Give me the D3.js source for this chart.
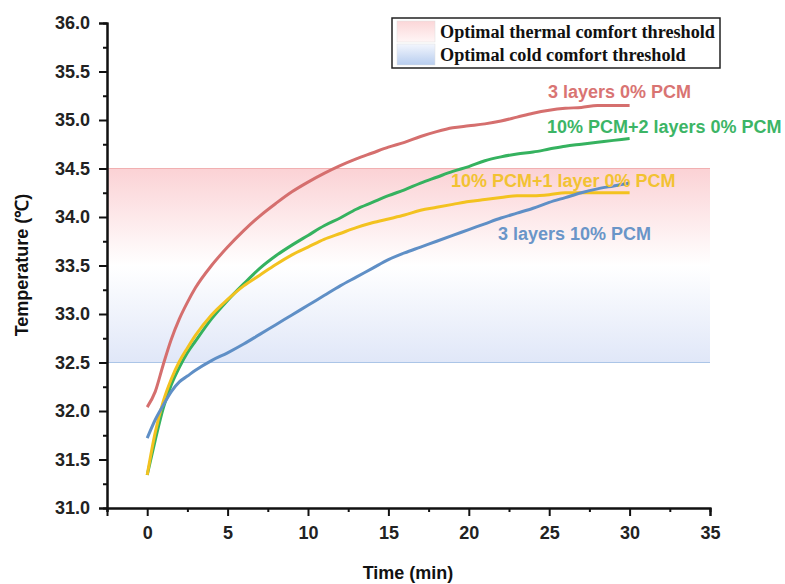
<!DOCTYPE html>
<html>
<head>
<meta charset="utf-8">
<script src="https://cdn.jsdelivr.net/npm/d3@7"></script>
<style>
  body { margin: 0; background: #fff; }
  svg { display: block; }
</style>
</head>
<body>
<svg id="chart" width="785" height="584"></svg>
<script>
// ---- Data ----
const time = [0,0.5,1,1.5,2,2.5,3,4,5,6,7,8,9,10,11,12,13,14,15,16,17,18,19,20,21,22,23,24,25,26,27,28,29,30];
const red3Layers0PCM = [32.04,32.20,32.48,32.74,32.95,33.12,33.27,33.50,33.69,33.86,34.01,34.14,34.26,34.36,34.45,34.53,34.60,34.66,34.72,34.77,34.83,34.88,34.92,34.94,34.96,34.99,35.03,35.07,35.10,35.12,35.13,35.15,35.15,35.15];
const green10PCM2Layers = [31.34,31.70,32.03,32.27,32.45,32.60,32.72,32.95,33.14,33.31,33.47,33.60,33.71,33.81,33.91,33.99,34.08,34.15,34.22,34.28,34.35,34.41,34.47,34.52,34.58,34.62,34.65,34.67,34.70,34.73,34.75,34.77,34.79,34.81];
const yellow10PCM1Layer = [31.34,31.78,32.10,32.33,32.51,32.65,32.78,32.99,33.15,33.29,33.40,33.51,33.61,33.69,33.77,33.83,33.89,33.94,33.98,34.02,34.07,34.10,34.13,34.16,34.18,34.20,34.22,34.22,34.23,34.25,34.25,34.25,34.25,34.25];
const blue3Layers10PCM = [31.72,31.91,32.06,32.20,32.30,32.36,32.42,32.52,32.60,32.69,32.79,32.89,32.99,33.09,33.19,33.29,33.38,33.47,33.56,33.63,33.69,33.75,33.81,33.87,33.93,33.99,34.04,34.09,34.15,34.20,34.25,34.29,34.32,34.35];

const seriesNames = ["3 layers 0% PCM", "10% PCM+2 layers 0% PCM", "10% PCM+1 layer 0% PCM", "3 layers 10% PCM"];
const seriesValues = [red3Layers0PCM, green10PCM2Layers, yellow10PCM1Layer, blue3Layers10PCM];
const seriesColors = ["#d56f6e", "#35b25f", "#f3c21f", "#5f8fc6"];
const labelColors = ["#d97473", "#3cb566", "#f2c232", "#6a95c8"];

const xTicks = [0,5,10,15,20,25,30,35];
const yTicks = [31.0,31.5,32.0,32.5,33.0,33.5,34.0,34.5,35.0,35.5,36.0];
const thermalBand = [33.5, 34.5];
const coldBand = [32.5, 33.5];
const legendLabels = ["Optimal thermal comfort threshold", "Optimal cold comfort threshold"];

// ---- Layout ----
const svg = d3.select("#chart");
const x = d3.scaleLinear().domain([-2.5, 35]).range([107, 710]);
const y = d3.scaleLinear().domain([31, 36]).range([508, 23]);
const fontFam = "Liberation Sans, Arial, sans-serif";

const defs = svg.append("defs");
const gRed = defs.append("linearGradient").attr("id","gradRed").attr("x1",0).attr("y1",0).attr("x2",0).attr("y2",1);
gRed.append("stop").attr("offset","0%").attr("stop-color","#fbd2d5");
gRed.append("stop").attr("offset","100%").attr("stop-color","#ffffff");
const gBlue = defs.append("linearGradient").attr("id","gradBlue").attr("x1",0).attr("y1",0).attr("x2",0).attr("y2",1);
gBlue.append("stop").attr("offset","0%").attr("stop-color","#ffffff");
gBlue.append("stop").attr("offset","100%").attr("stop-color","#e0e7f8");

// bands
svg.append("rect")
  .attr("x", x(-2.5)).attr("width", x(35) - x(-2.5))
  .attr("y", y(thermalBand[1])).attr("height", y(thermalBand[0]) - y(thermalBand[1]))
  .attr("fill", "url(#gradRed)");
svg.append("rect")
  .attr("x", x(-2.5)).attr("width", x(35) - x(-2.5))
  .attr("y", y(coldBand[1])).attr("height", y(coldBand[0]) - y(coldBand[1]))
  .attr("fill", "url(#gradBlue)");
svg.append("line")
  .attr("x1", x(-2.5)).attr("x2", x(35))
  .attr("y1", y(thermalBand[1])).attr("y2", y(thermalBand[1]))
  .attr("stroke", "#f1b0b1").attr("stroke-width", 1);
svg.append("line")
  .attr("x1", x(-2.5)).attr("x2", x(35))
  .attr("y1", y(coldBand[0])).attr("y2", y(coldBand[0]))
  .attr("stroke", "#abc5e7").attr("stroke-width", 1);

// lines
const line = d3.line().x((d,i) => x(time[i])).y(d => y(d)).curve(d3.curveMonotoneX);
seriesValues.forEach((vals, k) => {
  svg.append("path")
    .datum(vals)
    .attr("d", line)
    .attr("fill", "none")
    .attr("stroke", seriesColors[k])
    .attr("stroke-width", 3)
    .attr("stroke-linejoin", "round");
});

// series labels
const labelPos = [[548, 98], [547, 133], [451, 187], [498, 240]];
seriesNames.forEach((name, k) => {
  svg.append("text")
    .attr("x", labelPos[k][0]).attr("y", labelPos[k][1])
    .attr("fill", labelColors[k])
    .attr("font-family", fontFam)
    .attr("font-weight", "bold")
    .attr("font-size", 18)
    .text(name);
});

// axes
const xAxis = d3.axisBottom(x).tickValues(xTicks).tickSize(8).tickPadding(10).tickFormat(d3.format("d"));
const xMinor = d3.axisBottom(x).tickValues([-2.5,2.5,7.5,12.5,17.5,22.5,27.5,32.5]).tickSize(4).tickFormat("");
const yAxis = d3.axisLeft(y).tickValues(yTicks).tickSize(8).tickPadding(9).tickFormat(d3.format(".1f"));
const yMinor = d3.axisLeft(y).tickValues(d3.range(31.25, 36, 0.5)).tickSize(4).tickFormat("");

function styleAxis(g) {
  g.select(".domain").attr("stroke", "#111").attr("stroke-width", 2);
  g.selectAll(".tick line").attr("stroke", "#111").attr("stroke-width", 2);
  g.selectAll(".tick text").attr("fill", "#222").attr("font-family", fontFam).attr("font-weight", "bold").attr("font-size", 18);
}
svg.append("g").attr("transform", "translate(0,508)").call(xMinor).call(styleAxis);
svg.append("g").attr("transform", "translate(0,508)").call(xAxis).call(styleAxis);
svg.append("g").attr("transform", "translate(107,0)").call(yMinor).call(styleAxis);
svg.append("g").attr("transform", "translate(107,0)").call(yAxis).call(styleAxis);

// axis titles
svg.append("text")
  .attr("x", 408).attr("y", 579)
  .attr("text-anchor", "middle")
  .attr("font-family", fontFam).attr("font-weight", "bold").attr("font-size", 18)
  .attr("fill", "#111")
  .text("Time (min)");
svg.append("text")
  .attr("transform", "translate(28,265) rotate(-90)")
  .attr("text-anchor", "middle")
  .attr("font-family", fontFam).attr("font-weight", "bold").attr("font-size", 18)
  .attr("fill", "#111")
  .text("Temperature (℃)");

// legend
const lg = svg.append("g");
lg.append("rect").attr("x", 392).attr("y", 18).attr("width", 328).attr("height", 50)
  .attr("fill", "#fff").attr("stroke", "#222").attr("stroke-width", 1.5);
const gRedL = defs.append("linearGradient").attr("id","gradRedL").attr("x1",0).attr("y1",0).attr("x2",0).attr("y2",1);
gRedL.append("stop").attr("offset","0%").attr("stop-color","#fbd6d8");
gRedL.append("stop").attr("offset","100%").attr("stop-color","#fff6f6");
const gBlueL = defs.append("linearGradient").attr("id","gradBlueL").attr("x1",0).attr("y1",0).attr("x2",0).attr("y2",1);
gBlueL.append("stop").attr("offset","0%").attr("stop-color","#f3f6fd");
gBlueL.append("stop").attr("offset","100%").attr("stop-color","#b7cdef");
const legendFills = ["url(#gradRedL)", "url(#gradBlueL)"];
legendLabels.forEach((lab, k) => {
  lg.append("rect").attr("x", 397).attr("y", 21 + k*23).attr("width", 38).attr("height", 21)
    .attr("fill", legendFills[k]).attr("stroke", "#ddd").attr("stroke-width", 0.5);
  lg.append("text").attr("x", 440).attr("y", 38 + k*23)
    .attr("font-family", "Liberation Serif, Times New Roman, serif")
    .attr("font-weight", "bold").attr("font-size", 18.2).attr("fill", "#111")
    .text(lab);
});
</script>
</body>
</html>
